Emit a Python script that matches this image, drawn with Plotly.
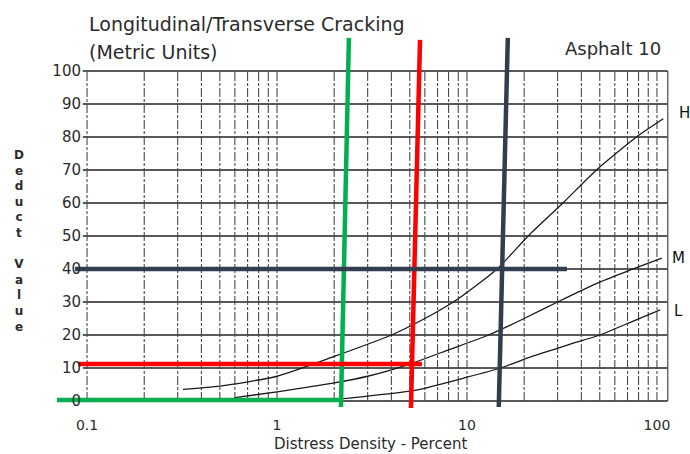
import plotly.graph_objects as go

# ---------------- data ----------------
h_x = [0.32, 0.5, 1, 2, 4, 6, 9, 14.4, 21, 32, 48, 78, 108]
h_y = [3.5, 4.5, 7.5, 13.5, 20, 25, 31, 40, 50, 60, 70, 80, 85.5]

m_x = [0.6, 1, 2, 3, 5, 8, 13, 20, 30, 50, 75, 106]
m_y = [1.0, 2.8, 5.5, 7.5, 11.2, 15.5, 20, 25, 30, 36, 40, 43.3]

l_x = [1.0, 2, 3, 5.4, 10, 15, 22, 35, 50, 75, 104]
l_y = [0, 0.5, 1.5, 3.3, 7.2, 10, 13.5, 17.2, 20, 24.2, 27.6]

y_ticks = [0, 10, 20, 30, 40, 50, 60, 70, 80, 90, 100]
y_tick_text = ["0", "10", "20", "30", "40", "50", "60", "70", "80", "90", "100"]
x_ticks = [0.1, 1, 10, 100]
x_tick_text = ["0.1", "1", "10", "100"]

# grid values
grid_h = [0, 10, 20, 30, 40, 50, 60, 70, 80, 90, 100]
grid_v = [0.1, 0.2, 0.3, 0.4, 0.5, 0.6, 0.7, 0.8, 0.9,
          1, 2, 3, 4, 5, 6, 7, 8, 9,
          10, 20, 30, 40, 50, 60, 70, 80, 90, 100]
frame_right = 114
frame_bottom = 0
frame_top = 100

# overlay reading lines (drawn on the scan)
green_v_x = [2.17, 2.39]
green_v_y = [-1.8, 110]
green_h_x = [0.0695, 2.2]
green_h_y = [0.3, 0.3]

red_v_x = [5.07, 5.66]
red_v_y = [-2.1, 109.4]
red_h_x = [0.0897, 5.79]
red_h_y = [11.2, 11.2]

navy_v_x = [14.7, 16.4]
navy_v_y = [-1.8, 110]
navy_h_x = [0.0865, 33.6]
navy_h_y = [40, 40]

FONT = "DejaVu Sans"
INK = "#2b2b2b"

fig = go.Figure()

# horizontal grid lines (solid)
gx, gy = [], []
for v in grid_h:
    gx += [0.095, frame_right, None]
    gy += [v, v, None]
fig.add_trace(go.Scatter(x=gx, y=gy, mode="lines",
                         line=dict(color="#222222", width=1.4),
                         hoverinfo="skip", showlegend=False))

# vertical grid lines (broken, scanned look)
vx, vy = [], []
for v in grid_v:
    vx += [v, v, None]
    vy += [frame_bottom, frame_top, None]
fig.add_trace(go.Scatter(x=vx, y=vy, mode="lines",
                         line=dict(color="#4a4a4a", width=1.1, dash="9px,2px,3px,2px"),
                         hoverinfo="skip", showlegend=False))

# right frame
fig.add_trace(go.Scatter(x=[frame_right, frame_right], y=[frame_bottom, frame_top],
                         mode="lines", line=dict(color="#555555", width=1.3),
                         hoverinfo="skip", showlegend=False))

# curves
for cx, cy in [(h_x, h_y), (m_x, m_y), (l_x, l_y)]:
    fig.add_trace(go.Scatter(x=cx, y=cy, mode="lines",
                             line=dict(color="#1a1a1a", width=1.3, shape="spline", smoothing=0.6),
                             hoverinfo="skip", showlegend=False))

# overlay lines
overlays = [
    (green_h_x, green_h_y, "#00b050"), (green_v_x, green_v_y, "#00b050"),
    (red_h_x, red_h_y, "#ff0000"), (red_v_x, red_v_y, "#ff0000"),
    (navy_h_x, navy_h_y, "#323e4f"), (navy_v_x, navy_v_y, "#323e4f"),
]
for ox, oy, col in overlays:
    fig.add_trace(go.Scatter(x=ox, y=oy, mode="lines",
                             line=dict(color=col, width=4.5),
                             hoverinfo="skip", showlegend=False))

fig.update_layout(
    width=690, height=454,
    margin=dict(l=50, r=15, t=30, b=42),
    paper_bgcolor="white", plot_bgcolor="white",
    font=dict(family=FONT, color=INK),
    showlegend=False,
    xaxis=dict(type="log", range=[-1.195, 2.095],
               tickmode="array", tickvals=x_ticks, ticktext=x_tick_text,
               showgrid=False, zeroline=False, showline=False,
               ticks="", anchor="free", position=0.0288,
               ticklabelstandoff=14,
               tickfont=dict(family=FONT, size=14, color=INK),
               automargin=False, fixedrange=True),
    yaxis=dict(range=[-3.33, 112.4],
               tickmode="array", tickvals=y_ticks, ticktext=y_tick_text,
               showgrid=False, zeroline=False, showline=False,
               ticks="", anchor="free", position=0.0592,
               ticklabelstandoff=6,
               tickfont=dict(family=FONT, size=15, color=INK),
               automargin=False, fixedrange=True),
)

ann = dict(showarrow=False, xref="paper", yref="paper")
fig.add_annotation(text="Longitudinal/Transverse Cracking", x=0.0592, y=1.0157,
                   xanchor="left", yanchor="middle",
                   font=dict(family=FONT, size=19, color=INK), **ann)
fig.add_annotation(text="(Metric Units)", x=0.0592, y=0.9424,
                   xanchor="left", yanchor="middle",
                   font=dict(family=FONT, size=19, color=INK), **ann)
fig.add_annotation(text="Asphalt 10", x=0.981, y=0.9503,
                   xanchor="right", yanchor="middle",
                   font=dict(family=FONT, size=18, color=INK), **ann)
fig.add_annotation(text="Distress Density - Percent", x=0.5136, y=-0.0838,
                   xanchor="center", yanchor="middle",
                   font=dict(family=FONT, size=15, color=INK), **ann)
fig.add_annotation(text="D<br>e<br>d<br>u<br>c<br>t<br> <br>V<br>a<br>l<br>u<br>e",
                   x=-0.0496, y=0.4476, xanchor="center", yanchor="middle",
                   font=dict(family=FONT, size=12, color=INK, weight="bold"), **ann)
for lbl, px, py in [("H", 1.0144, 0.7827), ("M", 1.0048, 0.4031), ("L", 1.0048, 0.2644)]:
    fig.add_annotation(text=lbl, x=px, y=py, xanchor="center", yanchor="middle",
                       font=dict(family=FONT, size=15, color="#111111"), **ann)

fig.write_html("out.html", config={"displayModeBar": False},
               post_script="document.body.style.margin='0px';")
